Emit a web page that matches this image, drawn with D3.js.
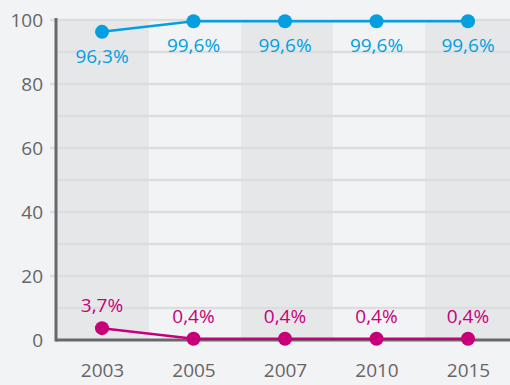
<!DOCTYPE html>
<html>
<head>
<meta charset="utf-8">
<script src="https://cdn.jsdelivr.net/npm/d3@7"></script>
<style>
  html, body { margin: 0; padding: 0; background: #f2f3f5; }
  svg { display: block; }
  text { font-family: "Open Sans", "Noto Sans", sans-serif; }
</style>
</head>
<body>
<svg id="chart" width="510" height="385"></svg>
<script>
// Years on the x axis
const years = ["2003", "2005", "2007", "2010", "2015"];
// Upper series (blue) and lower series (magenta), in percent
const upperValues = [96.3, 99.6, 99.6, 99.6, 99.6];
const lowerValues = [3.7, 0.4, 0.4, 0.4, 0.4];
// Y axis ticks
const yTicks = [0, 20, 40, 60, 80, 100];
const gridValues = [10, 20, 30, 40, 50, 60, 70, 80, 90, 100];

const svg = d3.select("#chart");
const W = 510, H = 385;
const plotLeft = 56, plotTop = 20, plotBottom = 340;

// column shading bands and point positions
const xBand = d3.scaleBand().domain(years).range([57, 517]).padding(0);
const x = d3.scalePoint().domain(years).range([102, 468]);
const y = d3.scaleLinear().domain([0, 100]).range([plotBottom, plotTop]);

const fmt = v => d3.format(".1f")(v).replace(".", ",") + "%";

// alternating column bands
svg.append("g").selectAll("rect").data(years).join("rect")
  .attr("x", (d, i) => i === 0 ? plotLeft : xBand(d))
  .attr("y", plotTop)
  .attr("width", (d, i) => i === 0 ? xBand(years[1]) - plotLeft : xBand.bandwidth())
  .attr("height", plotBottom - plotTop)
  .attr("fill", (d, i) => i % 2 === 0 ? "#e6e7e9" : "#f2f3f5");

// horizontal grid lines; labelled values get a short tick to the left
svg.append("g").selectAll("line").data(gridValues).join("line")
  .attr("x1", d => d % 20 === 0 ? plotLeft - 6 : plotLeft)
  .attr("x2", W)
  .attr("y1", d => y(d))
  .attr("y2", d => y(d))
  .attr("stroke", "#dcdddf")
  .attr("stroke-width", 2.5);

// y axis labels
const yAxis = d3.axisLeft(y).tickValues(yTicks).tickSize(0).tickPadding(13);
svg.append("g").attr("transform", `translate(${plotLeft},0)`).call(yAxis)
  .call(g => g.select(".domain").remove())
  .call(g => g.selectAll("text")
    .attr("fill", "#666")
    .style("font-size", "19px")
    .style("font-family", "\"Open Sans\", sans-serif"));

// x axis labels
const xAxis = d3.axisBottom(x).tickSize(0).tickPadding(24);
svg.append("g").attr("transform", `translate(0,${plotBottom})`).call(xAxis)
  .call(g => g.select(".domain").remove())
  .call(g => g.selectAll("text")
    .attr("fill", "#666")
    .style("font-size", "19px")
    .style("font-family", "\"Open Sans\", sans-serif"));

// axis lines
svg.append("line")
  .attr("x1", plotLeft).attr("x2", plotLeft)
  .attr("y1", plotTop - 2).attr("y2", plotBottom + 1.5)
  .attr("stroke", "#67686a").attr("stroke-width", 3);
svg.append("line")
  .attr("x1", plotLeft).attr("x2", W)
  .attr("y1", plotBottom).attr("y2", plotBottom)
  .attr("stroke", "#67686a").attr("stroke-width", 3);

function drawSeries(values, color, labelDy) {
  const pts = years.map((yr, i) => ({ yr, v: values[i] }));
  const g = svg.append("g");
  g.append("path").datum(pts)
    .attr("fill", "none")
    .attr("stroke", color)
    .attr("stroke-width", 2.5)
    .attr("d", d3.line().x(d => x(d.yr)).y(d => y(d.v)));
  g.selectAll("circle").data(pts).join("circle")
    .attr("cx", d => x(d.yr))
    .attr("cy", d => y(d.v))
    .attr("r", 7)
    .attr("fill", color);
  g.selectAll("text").data(pts).join("text")
    .attr("x", d => x(d.yr))
    .attr("y", d => y(d.v) + labelDy)
    .attr("text-anchor", "middle")
    .attr("dominant-baseline", "central")
    .attr("fill", color)
    .style("font-size", "19px")
    .text(d => fmt(d.v));
}

drawSeries(upperValues, "#039fe0", 24);
drawSeries(lowerValues, "#c7007a", -23);
</script>
</body>
</html>
